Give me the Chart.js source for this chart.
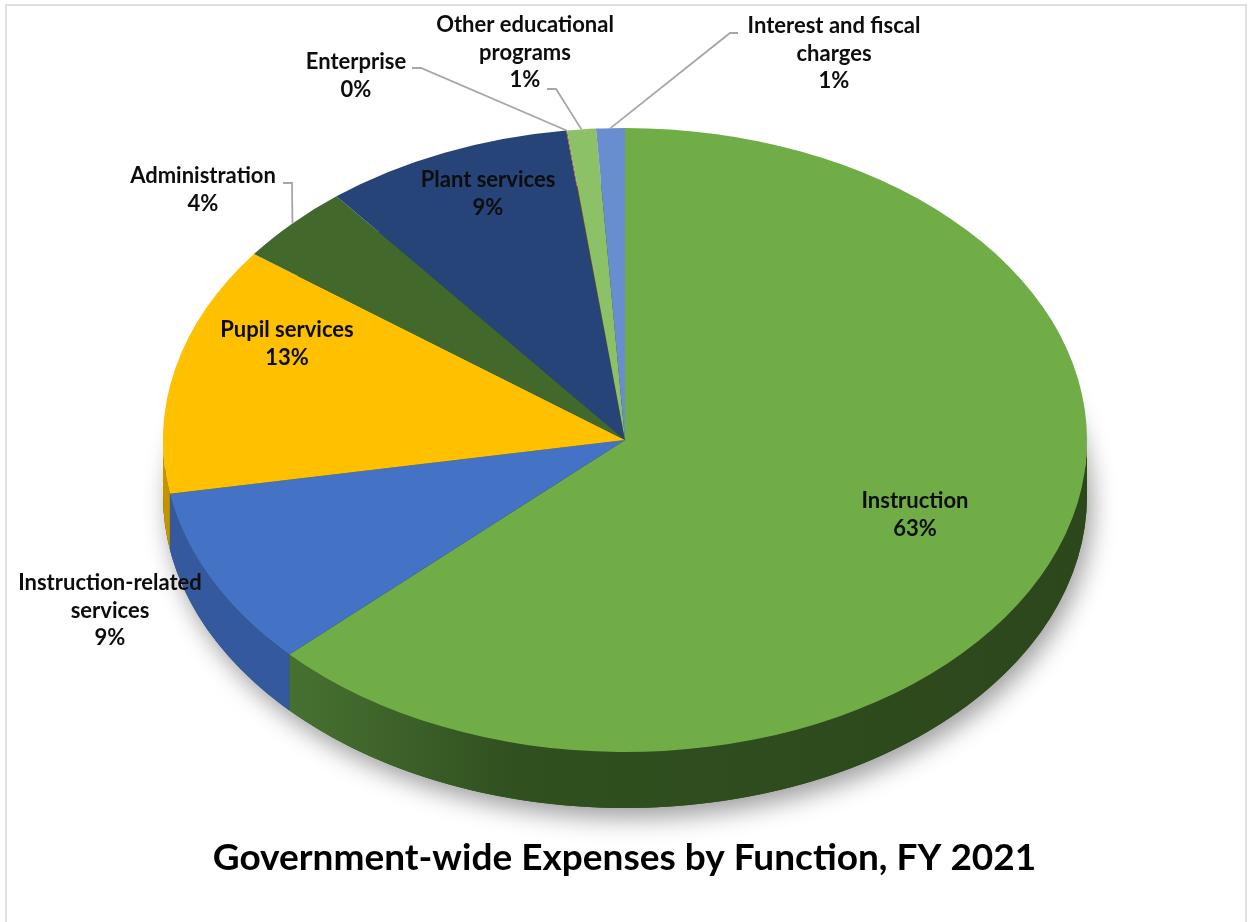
<!DOCTYPE html>
<html>
<head>
<meta charset="utf-8">
<title>Government-wide Expenses by Function, FY 2021</title>
<script src="https://cdn.jsdelivr.net/npm/chart.js@4.4.1/dist/chart.umd.min.js"></script>
<style>
  html, body { margin:0; padding:0; background:#fff; }
  #wrap { position:relative; width:1249px; height:922px; overflow:hidden; }
  #wrap canvas { position:absolute; left:0; top:0; }
  #frame { position:absolute; left:5px; top:4px; width:1242px; height:940px;
           border:2px solid #e0e0e0; box-sizing:border-box; pointer-events:none; }
</style>
</head>
<body>
<div id="wrap">
  <canvas id="expensePie" width="1249" height="922"></canvas>
  <div id="frame"></div>
</div>
<script>
// ------------------------------------------------------
// data (share of expenses, %)
// ------------------------------------------------------
const categories = [
  'Instruction', 'Instruction-related services', 'Pupil services', 'Administration',
  'Plant services', 'Enterprise', 'Other educational programs', 'Interest and fiscal charges'
];
const shares = [62.9, 9.3, 12.9, 4.1, 8.7, 0.03, 1.0, 1.0];
const sliceColors = ['#70AD47', '#4472C4', '#FFC000', '#43682B', '#264478', '#9E480E', '#8CC168', '#698ED0'];
const sideColors  = [null, '#34599e', '#c49300', '#2f4a1e', '#1b3157', '#6e320a', '#62894a', '#4a6492'];

// how each label is broken into lines
const labelLines = [
  ['Instruction'], ['Instruction-related', 'services'], ['Pupil services'], ['Administration'],
  ['Plant services'], ['Enterprise'], ['Other educational', 'programs'], ['Interest and fiscal', 'charges']
];

// ------------------------------------------------------
// layout (screen px) - kept apart from the data
// ------------------------------------------------------
const PIE_CX = 625, PIE_CY = 440;   // centre of the top face
const RX = 462, RY = 312;           // ellipse radii of the top face
const DEPTH = 56;                   // thickness of the pie
const LINE_H = 27.5;
// x centre, first baseline, leader elbow (null = label sits inside slice)
const labelPos = [
  { x: 915, y: 508, elbow: null },
  { x: 110, y: 590, elbow: null },
  { x: 287, y: 337, elbow: null },
  { x: 203, y: 183, elbow: [[283, 183], [292, 183]] },
  { x: 488, y: 187, elbow: null },
  { x: 356, y: 69,  elbow: [[412, 68], [421, 68]] },
  { x: 525, y: 32,  elbow: [[547, 89], [556, 89]] },
  { x: 834, y: 33,  elbow: [[738, 33], [730, 33]] }
];

const LABEL_FONT = 'bold 22px Lato, "Open Sans", sans-serif';

function rimPoint(arc){
  const mid = (arc.startAngle + arc.endAngle) / 2;
  return [PIE_CX + RX * Math.cos(mid), PIE_CY + RY * Math.sin(mid)];
}

// ------------------------------------------------------
// 3D look: side wall + shadow, then squash the pie into an ellipse
// ------------------------------------------------------
const tiltPlugin = {
  id: 'tilt',
  beforeDatasetsDraw(chart){
    const ctx = chart.ctx;
    const arcs = chart.getDatasetMeta(0).data;
    if(!arcs.length) return;

    // floor of the pie with a soft shadow
    ctx.save();
    ctx.shadowColor = 'rgba(0,0,0,0.38)';
    ctx.shadowBlur = 24;
    ctx.shadowOffsetX = 5;
    ctx.shadowOffsetY = 10;
    ctx.beginPath();
    ctx.ellipse(PIE_CX, PIE_CY + DEPTH, RX, RY, 0, 0, Math.PI * 2);
    ctx.fillStyle = '#2d481c';
    ctx.fill();
    ctx.restore();

    // side walls of the front half
    const grad = ctx.createLinearGradient(PIE_CX - RX, 0, PIE_CX + RX, 0);
    grad.addColorStop(0, '#4f823a');
    grad.addColorStop(0.2, '#42692d');
    grad.addColorStop(0.38, '#30501f');
    grad.addColorStop(1, '#2c471c');

    arcs.forEach((arc, i) => {
      const s = Math.max(arc.startAngle, 0);
      const e = Math.min(arc.endAngle, Math.PI);
      if(e <= s) return;
      ctx.beginPath();
      ctx.ellipse(PIE_CX, PIE_CY, RX, RY, 0, s, e);
      ctx.ellipse(PIE_CX, PIE_CY + DEPTH, RX, RY, 0, e, s, true);
      ctx.closePath();
      ctx.fillStyle = i === 0 ? grad : sideColors[i];
      ctx.fill();
    });

    // the top face: draw the library's arcs through a squashed transform
    ctx.save();
    ctx.translate(PIE_CX, PIE_CY);
    ctx.scale(1, RY / RX);
    ctx.translate(-arcs[0].x, -arcs[0].y);
  },
  afterDatasetsDraw(chart){
    if(chart.getDatasetMeta(0).data.length) chart.ctx.restore();
  }
};

// ------------------------------------------------------
// data labels + leader lines
// ------------------------------------------------------
const labelPlugin = {
  id: 'sliceLabels',
  afterDraw(chart){
    const ctx = chart.ctx;
    const arcs = chart.getDatasetMeta(0).data;
    const total = shares.reduce((a, b) => a + b, 0);

    ctx.save();
    ctx.strokeStyle = '#a6a6a6';
    ctx.lineWidth = 1.8;
    arcs.forEach((arc, i) => {
      const p = labelPos[i];
      if(!p.elbow) return;
      const [rx, ry] = rimPoint(arc);
      ctx.beginPath();
      ctx.moveTo(p.elbow[0][0], p.elbow[0][1]);
      ctx.lineTo(p.elbow[1][0], p.elbow[1][1]);
      ctx.lineTo(rx, ry);
      ctx.stroke();
    });

    ctx.font = LABEL_FONT;
    ctx.fillStyle = '#0d0d0d';
    ctx.textAlign = 'center';
    ctx.textBaseline = 'alphabetic';
    shares.forEach((v, i) => {
      const p = labelPos[i];
      const lines = labelLines[i].concat([Math.round(v / total * 100) + '%']);
      lines.forEach((t, k) => ctx.fillText(t, p.x, p.y + k * LINE_H));
    });
    ctx.restore();
  }
};

// ------------------------------------------------------
// chart
// ------------------------------------------------------
new Chart(document.getElementById('expensePie').getContext('2d'), {
  type: 'pie',
  data: {
    labels: categories,
    datasets: [{
      data: shares,
      backgroundColor: sliceColors,
      borderWidth: 0,
      radius: RX,
      clip: false
    }]
  },
  options: {
    responsive: false,
    animation: false,
    events: [],
    layout: { padding: 0 },
    plugins: {
      legend: { display: false },
      tooltip: { enabled: false },
      title: {
        display: true,
        position: 'bottom',
        text: 'Government-wide Expenses by Function, FY 2021',
        color: '#000',
        font: { family: 'Lato, "Open Sans", sans-serif', size: 37, weight: 'bold' },
        padding: { top: 0, bottom: 42 }
      }
    }
  },
  plugins: [tiltPlugin, labelPlugin]
});
</script>
</body>
</html>
